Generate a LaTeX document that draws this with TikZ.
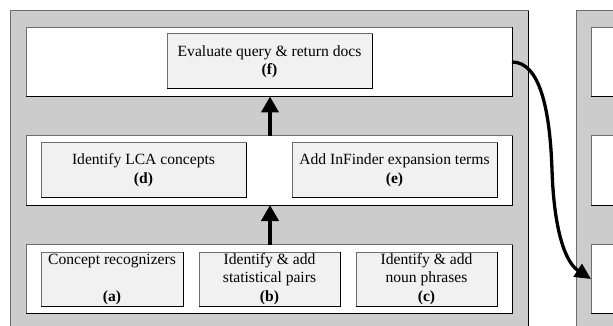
\documentclass[tikz,border=0pt]{standalone}
\usepackage{fontspec}
\setmainfont{Liberation Serif}
\usetikzlibrary{arrows.meta}
\definecolor{panelgray}{RGB}{204,204,204}
\definecolor{boxfill}{RGB}{241,241,241}
\definecolor{edgegray}{RGB}{110,110,110}
\begin{document}
\begin{tikzpicture}[x=1pt,y=-1pt,
  panel/.style={fill=panelgray,draw=edgegray,line width=1pt},
  band/.style={draw=edgegray,fill=white,line width=1pt,minimum height=69pt,inner sep=0pt,outer sep=0pt},
  stepbox/.style={draw=edgegray,fill=boxfill,line width=1pt,minimum height=54pt,inner sep=0pt,outer sep=0pt,align=center,
     font=\fontsize{15.6pt}{18.5pt}\selectfont},
  bigarrow/.style={line width=4pt,-{Triangle[width=17pt,length=16pt]}},
  curvearrow/.style={line width=3.3pt,-{Triangle[width=15pt,length=16pt]}},
]
\useasboundingbox (0,0) rectangle (613,326);
\clip (0,0) rectangle (613,326);
% panels
\fill[white] (0,0) rectangle (613,326);
\draw[panel] (10.5,11) rectangle (528,340);
\draw[black,line width=1pt] (528,11) -- (528,340);
\draw[panel] (576,11) rectangle (700,340);
% left bands
\node[band,minimum width=486pt] (topL) at (269,62) {};
\node[band,minimum width=486pt] (midL) at (269,170.5) {};
\node[band,minimum width=486pt] (botL) at (269,279) {};
% right bands
\node[band,minimum width=109pt] (topR) at (645.5,62) {};
\node[band,minimum width=109pt] (midR) at (645.5,170.5) {};
\node[band,minimum width=109pt] (botR) at (645.5,279) {};
% step boxes
\node[stepbox,minimum width=205pt,minimum height=55pt] (f) at (269.5,61.5) {Evaluate query \& return docs\\\textbf{(f)}};
\node[stepbox,minimum width=205pt] (d) at (143.5,170) {Identify LCA concepts\\\textbf{(d)}};
\node[stepbox,minimum width=205pt] (e) at (394.5,170) {Add InFinder expansion terms\\\textbf{(e)}};
\node[stepbox,minimum width=142pt] (a) at (112,279) {Concept recognizers\\~\\\textbf{(a)}};
\node[stepbox,minimum width=141pt] (b) at (269.5,279) {Identify \& add\\statistical pairs\\\textbf{(b)}};
\node[stepbox,minimum width=141pt] (c) at (426.5,279) {Identify \& add\\noun phrases\\\textbf{(c)}};
% darker lower-right edges
\foreach \n in {topL,midL,botL,topR,midR,botR,f,d,e,a,b,c}
  \draw[black,line width=1pt] (\n.south west) -- (\n.south east) -- (\n.north east);
% arrows
\draw[bigarrow] ([xshift=1pt]botL.north) -- ([xshift=1pt]midL.south);
\draw[bigarrow] ([xshift=1pt]midL.north) -- ([xshift=1pt]topL.south);
\draw[curvearrow] (topL.east) .. controls (540,62) and (550,110) .. (552,170)
   .. controls (554,230) and (565,262) .. (botR.west);
\end{tikzpicture}
\end{document}
